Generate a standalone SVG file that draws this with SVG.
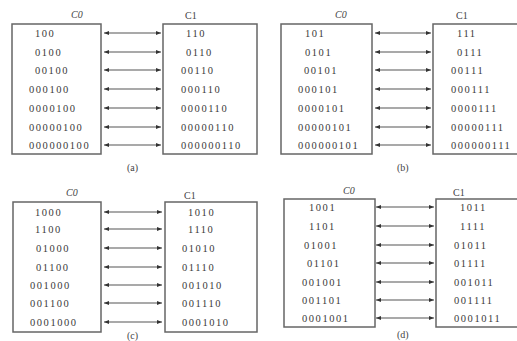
<svg xmlns="http://www.w3.org/2000/svg" width="517" height="341" viewBox="0 0 517 341">
<defs>
<style>
.box{fill:#fff;stroke:#666;stroke-width:1.5}
.t{font-family:"Liberation Serif",serif;font-size:10.5px;letter-spacing:1.55px;fill:#3a3a3a}
.h{font-family:"Liberation Serif",serif;font-size:10px;fill:#444}
.a{stroke:#555;stroke-width:1.2;fill:none;marker-start:url(#ah);marker-end:url(#ah)}
</style>
<marker id="ah" viewBox="0 0 10 10" refX="10" refY="5" markerWidth="6" markerHeight="5" orient="auto-start-reverse" markerUnits="userSpaceOnUse">
<path d="M0,1 L10,5 L0,9 z" fill="#333"/>
</marker>
</defs>
<rect width="517" height="341" fill="#fff"/>

<g id="a-c0">
<rect class="box" x="12" y="24" width="89" height="130"/>
<text class="h" x="71" y="18" font-style="italic">C0</text>
<text class="t" x="35" y="37">100</text>
<text class="t" x="35" y="56">0100</text>
<text class="t" x="35" y="74">00100</text>
<text class="t" x="29" y="93">000100</text>
<text class="t" x="29" y="112">0000100</text>
<text class="t" x="29" y="131">00000100</text>
<text class="t" x="29" y="149">000000100</text>
</g>
<g id="a-c1">
<rect class="box" x="163" y="24" width="94" height="130"/>
<text class="h" x="185" y="19">C1</text>
<text class="t" x="186" y="37">110</text>
<text class="t" x="186" y="56">0110</text>
<text class="t" x="181" y="74">00110</text>
<text class="t" x="181" y="93">000110</text>
<text class="t" x="181" y="112">0000110</text>
<text class="t" x="181" y="131">00000110</text>
<text class="t" x="181" y="149">000000110</text>
</g>
<text class="h" x="127" y="171">(a)</text>

<g id="b-c0">
<rect class="box" x="281" y="24" width="91" height="130"/>
<text class="h" x="335" y="18" font-style="italic">C0</text>
<text class="t" x="305" y="37">101</text>
<text class="t" x="305" y="56">0101</text>
<text class="t" x="304" y="74">00101</text>
<text class="t" x="298" y="93">000101</text>
<text class="t" x="298" y="112">0000101</text>
<text class="t" x="298" y="131">00000101</text>
<text class="t" x="298" y="149">000000101</text>
</g>
<g id="b-c1">
<rect class="box" x="433" y="24" width="94" height="130"/>
<text class="h" x="456" y="19">C1</text>
<text class="t" x="457" y="37">111</text>
<text class="t" x="457" y="56">0111</text>
<text class="t" x="451" y="74">00111</text>
<text class="t" x="451" y="93">000111</text>
<text class="t" x="451" y="112">0000111</text>
<text class="t" x="451" y="131">00000111</text>
<text class="t" x="451" y="149">000000111</text>
</g>
<text class="h" x="397" y="171">(b)</text>

<g id="c-c0">
<rect class="box" x="13" y="202" width="88" height="130"/>
<text class="h" x="66" y="196" font-style="italic">C0</text>
<text class="t" x="35" y="216">1000</text>
<text class="t" x="35" y="233">1100</text>
<text class="t" x="36" y="252">01000</text>
<text class="t" x="36" y="271">01100</text>
<text class="t" x="30" y="289">001000</text>
<text class="t" x="30" y="307">001100</text>
<text class="t" x="30" y="326">0001000</text>
</g>
<g id="c-c1">
<rect class="box" x="165" y="202" width="92" height="130"/>
<text class="h" x="184" y="199">C1</text>
<text class="t" x="188" y="216">1010</text>
<text class="t" x="188" y="233">1110</text>
<text class="t" x="182" y="252">01010</text>
<text class="t" x="182" y="271">01110</text>
<text class="t" x="182" y="289">001010</text>
<text class="t" x="182" y="307">001110</text>
<text class="t" x="182" y="326">0001010</text>
</g>
<text class="h" x="127" y="339">(c)</text>

<g id="d-c0">
<rect class="box" x="284" y="199" width="91" height="128"/>
<text class="h" x="343" y="194" font-style="italic">C0</text>
<text class="t" x="309" y="211">1001</text>
<text class="t" x="309" y="230">1101</text>
<text class="t" x="304" y="249">01001</text>
<text class="t" x="307" y="267">01101</text>
<text class="t" x="302" y="286">001001</text>
<text class="t" x="302" y="304">001101</text>
<text class="t" x="302" y="322">0001001</text>
</g>
<g id="d-c1">
<rect class="box" x="436" y="199" width="94" height="128"/>
<text class="h" x="453" y="196">C1</text>
<text class="t" x="460" y="211">1011</text>
<text class="t" x="460" y="230">1111</text>
<text class="t" x="454" y="249">01011</text>
<text class="t" x="454" y="267">01111</text>
<text class="t" x="454" y="286">001011</text>
<text class="t" x="454" y="304">001111</text>
<text class="t" x="454" y="322">0001011</text>
</g>
<text class="h" x="397" y="338">(d)</text>

<g id="connectors">
<line class="a" x1="104" y1="33" x2="161" y2="33"/>
<line class="a" x1="104" y1="52" x2="161" y2="52"/>
<line class="a" x1="104" y1="70" x2="161" y2="70"/>
<line class="a" x1="104" y1="89" x2="161" y2="89"/>
<line class="a" x1="104" y1="108" x2="161" y2="108"/>
<line class="a" x1="104" y1="127" x2="161" y2="127"/>
<line class="a" x1="104" y1="145" x2="161" y2="145"/>

<line class="a" x1="375" y1="33" x2="431" y2="33"/>
<line class="a" x1="375" y1="52" x2="431" y2="52"/>
<line class="a" x1="375" y1="70" x2="431" y2="70"/>
<line class="a" x1="375" y1="89" x2="431" y2="89"/>
<line class="a" x1="375" y1="108" x2="431" y2="108"/>
<line class="a" x1="375" y1="127" x2="431" y2="127"/>
<line class="a" x1="375" y1="145" x2="431" y2="145"/>

<line class="a" x1="104" y1="212" x2="162" y2="212"/>
<line class="a" x1="104" y1="229" x2="162" y2="229"/>
<line class="a" x1="104" y1="248" x2="162" y2="248"/>
<line class="a" x1="104" y1="267" x2="162" y2="267"/>
<line class="a" x1="104" y1="285" x2="162" y2="285"/>
<line class="a" x1="104" y1="303" x2="162" y2="303"/>
<line class="a" x1="104" y1="322" x2="162" y2="322"/>

<line class="a" x1="376" y1="207" x2="434" y2="207"/>
<line class="a" x1="376" y1="226" x2="434" y2="226"/>
<line class="a" x1="376" y1="245" x2="434" y2="245"/>
<line class="a" x1="376" y1="263" x2="434" y2="263"/>
<line class="a" x1="376" y1="282" x2="434" y2="282"/>
<line class="a" x1="376" y1="300" x2="434" y2="300"/>
<line class="a" x1="376" y1="318" x2="434" y2="318"/>
</g>
</svg>
